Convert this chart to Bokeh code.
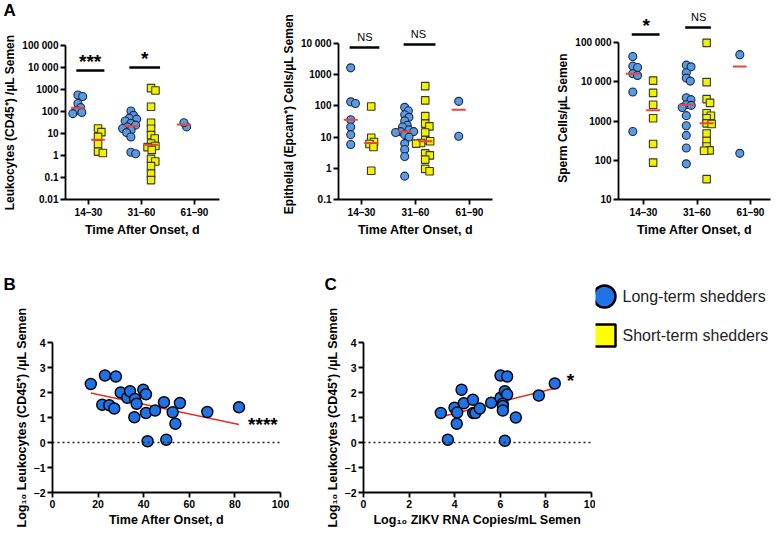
import numpy as np
from bokeh.plotting import figure
from bokeh.models import Range1d, FixedTicker, Span
from bokeh.layouts import column, row
from bokeh.embed import file_html
from bokeh.resources import INLINE
from bokeh.core.properties import value

# ---------------- data ----------------
categories = ["14–30", "31–60", "61–90"]

leuk_long = [[560, 480, 230, 150, 110, 90, 80],
             [105, 67, 50, 45, 37, 29, 24, 20, 17, 14, 11, 7, 1.4, 1.2],
             [20, 31]]
leuk_short = [[17, 11.5, 7, 3.3, 1.5, 1.3],
              [1150, 900, 165, 31, 16.5, 8.4, 5.9, 3.5, 2.7, 2.4, 1.8, 0.7, 0.53, 0.33, 0.15, 0.076]]

epi_long = [[1660, 135, 120, 36, 21, 12, 5.8],
            [90, 70, 52, 43, 33, 24, 21, 17, 15, 15, 14, 12, 10, 6.2, 4, 2.4, 0.56],
            [140, 10.7]]
epi_short = [[96, 9.5, 7, 6, 4.8, 0.83],
             [430, 150, 47, 27, 22, 14, 8, 7.4, 6.5, 6.2, 3, 2.6, 1.9, 0.96, 0.8]]

sperm_long = [[44000, 25000, 23000, 16000, 14500, 5500, 540],
              [26500, 24000, 17000, 12400, 10400, 3900, 3500, 2600, 2500, 2200, 1370, 760, 430, 205, 81],
              [49000, 150]]
sperm_short = [[10700, 5200, 2600, 1170, 260, 87],
               [98000, 9800, 3600, 2900, 1580, 1360, 1170, 870, 840, 480, 310, 225, 178, 175, 33]]

leuk_sig = ["***", "*"]
epi_sig = ["NS", "NS"]
sperm_sig = ["*", "NS"]

log_tick_labels = {0.01: "0.01", 0.1: "0.1", 1: "1", 10: "10", 100: "100", 1000: "1000",
                   10000: "10 000", 100000: "100 000"}

days_b = [16.8, 21.8, 23, 24.9, 27.1, 27.8, 29.9, 32.8, 34, 36.2, 35.9, 36.9, 39.8, 41, 41, 41.7,
          45, 48.9, 49.9, 52.7, 53.9, 55.9, 67.9, 81.8]
logleuk_b = [2.34, 1.51, 2.68, 1.49, 1.36, 2.64, 2.0, 1.79, 2.05, 1.74, 1.01, 1.55, 2.11, 1.93, 1.18, 0.05,
             1.28, 1.61, 0.11, 1.21, 0.75, 1.58, 1.22, 1.41]
b_sig = "****"

logzikv_c = [3.39, 3.70, 3.99, 4.11, 4.09, 4.30, 4.40, 4.80, 4.81, 4.91, 5.10, 5.60, 6.01, 6.30, 6.01, 6.20,
             6.30, 6.11, 6.11, 6.11, 6.68, 6.20, 7.69, 8.39]
logleuk_c = [1.18, 0.11, 1.39, 1.20, 0.75, 2.11, 1.57, 1.71, 1.18, 1.18, 1.36, 1.59, 2.68, 2.64, 1.79, 2.05,
             1.92, 1.55, 1.46, 1.28, 1.0, 0.07, 1.88, 2.36]
c_sig = "*"

legend_labels = ["Long-term shedders", "Short-term shedders"]

# ---------------- style / layout ----------------
FONT = "Liberation Sans"
BLUE_A = "#5a9be0"
BLUE_A_LINE = "#1c2a4a"
YELLOW = "#f2f200"
YELLOW_LINE = "#3a3a20"
BLUE_BC = "#1f73e6"
RED = "#e8463c"

ROW1_H = 248
FRAME1_BOTTOM = 199
ROW2_TOP = ROW1_H
ROW2_H = 280
LETTER_H = 48
A_LETTER_H = 22
FRAME2_TOP = 342
FRAME2_BOTTOM = 492
HEADER_GAP = 6  # main frame extends this far above the top tick when a header is used

STAR_UP = 9.5   # px between bar and star baseline
NS_UP = 11.0    # px between bar and NS baseline


def style_axis(ax, label_size, tick_size):
    ax.axis_line_width = 1.8
    ax.axis_line_color = "black"
    ax.major_tick_line_width = 1.8
    ax.major_tick_line_color = "black"
    ax.major_tick_out = 5
    ax.major_tick_in = 0
    ax.minor_tick_line_color = None
    ax.major_label_text_font = FONT
    ax.major_label_text_font_style = "bold"
    ax.major_label_text_font_size = tick_size
    ax.major_label_text_color = "black"
    ax.axis_label_text_font = FONT
    ax.axis_label_text_font_style = "bold"
    ax.axis_label_text_font_size = label_size
    ax.axis_label_text_color = "black"
    ax.major_label_standoff = 2
    ax.axis_label_standoff = 2


def blank_fig(width, height, x_range=None, border_left=0, border_right=0):
    p = figure(frame_width=width, frame_height=height,
               x_range=x_range if x_range is not None else Range1d(0, width), y_range=Range1d(height, 0),
               output_backend="svg", toolbar_location=None, frame_align=False,
               min_border_left=border_left, min_border_right=border_right, min_border_top=0,
               min_border_bottom=0)
    p.axis.visible = False
    p.grid.visible = False
    p.outline_line_color = None
    return p


def letter_fig(width, height, letter, x, y):
    lf = blank_fig(width, height)
    lf.text(x=[x], y=[y], text=[letter], text_font=value(FONT), text_font_style="bold",
            text_font_size="17px", text_align="left", text_baseline="middle", text_color="black")
    return lf


def swarm_offsets(vals, ppd, unit_px, d=5.0):
    ys = np.log10(np.asarray(vals, float)) * ppd
    order = np.argsort(-ys)
    placed = []
    offs = np.zeros(len(ys))
    for i in order:
        y = ys[i]
        cands = [0.0]
        for px, py in placed:
            dy = abs(y - py)
            if dy < d:
                dx = np.sqrt(d * d - dy * dy)
                cands += [px + dx, px - dx]
        cands.sort(key=abs)
        for cnd in cands:
            if all((cnd - px) ** 2 + (y - py) ** 2 >= d * d - 1e-6 for px, py in placed):
                offs[i] = cnd
                break
        placed.append((offs[i], y))
    return offs / unit_px


def draw_sig(p, sig, sig_bars, to_y):
    """to_y(px_below_top_tick, px_up) -> y value in p's coordinates."""
    for (ci, l, r, dpx, tdx), s in zip(sig_bars, sig):
        yb = to_y(dpx, 0.0)
        p.segment(x0=[ci + l], y0=[yb], x1=[ci + r], y1=[yb], line_color="black", line_width=2.5)
        if s == "NS":
            p.text(x=[ci + tdx], y=[to_y(dpx, NS_UP)], text=[s], text_font=value(FONT),
                   text_font_size="11px", text_align="center", text_baseline="alphabetic", text_color="black")
        else:
            p.text(x=[ci + tdx], y=[to_y(dpx, STAR_UP)], text=[s], text_font=value(FONT),
                   text_font_style="bold", text_font_size="19px", text_align="center",
                   text_baseline="alphabetic", text_color="black")


def a_panel(fig_left, frame_left, frame_right, fig_right, frame_top, cat0_px, unit_px, log_lo, log_hi,
            top_tick_px, ylabel, longs, shorts, sig, sig_bars, header=False, letter=None):
    ppd = (FRAME1_BOTTOM - top_tick_px) / (log_hi - log_lo)
    if header:
        frame_top = top_tick_px - HEADER_GAP
    fig_top = 0
    if header:
        fig_top = frame_top
    elif letter:
        fig_top = A_LETTER_H
    y_hi = 10 ** (log_hi + (top_tick_px - frame_top) / ppd)
    y_lo = 10 ** log_lo
    x_lo = -(cat0_px - frame_left) / unit_px
    x_hi = (frame_right - cat0_px) / unit_px
    xr = Range1d(x_lo, x_hi)
    p = figure(frame_width=frame_right - frame_left, frame_height=FRAME1_BOTTOM - frame_top,
               x_range=xr, y_range=Range1d(y_lo, y_hi),
               y_axis_type="log", output_backend="svg", toolbar_location=None, frame_align=False,
               min_border_left=frame_left - fig_left, min_border_right=fig_right - frame_right,
               min_border_top=frame_top - fig_top, min_border_bottom=ROW1_H - FRAME1_BOTTOM)
    p.outline_line_color = None
    p.grid.visible = False

    ticks = [10.0 ** k for k in range(log_lo, log_hi + 1)]
    p.yaxis.ticker = FixedTicker(ticks=ticks)
    p.yaxis.major_label_overrides = {t: log_tick_labels[t if t < 1 else int(round(t))] for t in ticks}
    p.yaxis.bounds = (y_lo, 10.0 ** log_hi)
    p.yaxis.axis_label = ylabel
    p.xaxis.ticker = FixedTicker(ticks=[0, 1, 2])
    p.xaxis.major_label_overrides = {i: cat for i, cat in enumerate(categories)}
    p.xaxis.axis_label = "Time After Onset, d"
    style_axis(p.yaxis[0], "12px", "10px")
    style_axis(p.xaxis[0], "12.5px", "10px")

    LONG_OFF, SHORT_OFF, HALF = -0.2, 0.18, 0.13
    for kind, groups in (("long", longs), ("short", shorts)):
        for ci, vals in enumerate(groups):
            base = ci + (LONG_OFF if kind == "long" else SHORT_OFF)
            xs = base + swarm_offsets(vals, ppd, unit_px)
            med = float(np.median(vals))
            if kind == "long":
                p.scatter(xs, vals, marker="circle", size=8, fill_color=BLUE_A, line_color=BLUE_A_LINE,
                          line_width=1.1)
            else:
                p.scatter(xs, vals, marker="square", size=7.5, fill_color=YELLOW, line_color=YELLOW_LINE,
                          line_width=1.1)
            p.segment(x0=[base - HALF], y0=[med], x1=[base + HALF], y1=[med], line_color=RED, line_width=2)

    if header:
        h = blank_fig(frame_right - frame_left, frame_top, x_range=xr,
                      border_left=frame_left - fig_left, border_right=fig_right - frame_right)
        draw_sig(h, sig, sig_bars, lambda dpx, up: top_tick_px + dpx - up)
        return column(h, p)
    draw_sig(p, sig, sig_bars, lambda dpx, up: 10 ** (log_hi - (dpx - up) / ppd))
    if letter:
        return column(letter_fig(fig_right - fig_left, A_LETTER_H, letter, 3 - fig_left, 10), p)
    return p


a1 = a_panel(0, 63, 217, 240, 45, 86, 53, -2, 5, 45, "Leukocytes (CD45⁺) /µL Semen", leuk_long,
             leuk_short, leuk_sig, [(0, -0.23, 0.30, 25, 0.03), (1, -0.23, 0.35, 22, 0.06)], letter="A")
a2 = a_panel(240, 336, 490, 510, 28, 359, 54, -1, 4, 43, "Epithelial (Epcam⁺) Cells/µL Semen", epi_long,
             epi_short, epi_sig, [(0, -0.22, 0.33, 4, 0.065), (1, -0.22, 0.37, 1, 0.055)])
a3 = a_panel(510, 616, 768, 770, 10, 641, 53.5, 1, 5, 42, "Sperm Cells/µL Semen", sperm_long, sperm_short,
             sperm_sig, [(0, -0.22, 0.30, -8, 0.05), (1, -0.22, 0.26, -15, 0.03)], header=True)


def xy_panel(fig_left, frame_left, frame_right, fig_right, xr, xticks, xlabel, xs, ys, letter, letter_x):
    top = ROW2_TOP + LETTER_H
    p = figure(frame_width=frame_right - frame_left, frame_height=FRAME2_BOTTOM - FRAME2_TOP,
               x_range=Range1d(*xr), y_range=Range1d(-2, 4), frame_align=False,
               output_backend="svg", toolbar_location=None,
               min_border_left=frame_left - fig_left, min_border_right=fig_right - frame_right,
               min_border_top=FRAME2_TOP - top, min_border_bottom=ROW2_TOP + ROW2_H - FRAME2_BOTTOM)
    p.outline_line_color = None
    p.grid.visible = False
    p.yaxis.ticker = FixedTicker(ticks=list(range(-2, 5)))
    p.xaxis.ticker = FixedTicker(ticks=xticks)
    p.yaxis.axis_label = "Log₁₀ Leukocytes (CD45⁺) /µL Semen"
    p.xaxis.axis_label = xlabel
    style_axis(p.yaxis[0], "12.5px", "10.5px")
    style_axis(p.xaxis[0], "12.5px", "10.5px")
    p.add_layout(Span(location=0, dimension="width", line_color="#222222", line_dash="2 3", line_width=1.5))
    xs = np.asarray(xs, float)
    ys = np.asarray(ys, float)
    slope, icpt = np.polyfit(xs, ys, 1)
    xl = np.array([xs.min(), xs.max()])
    p.line(xl, slope * xl + icpt, line_color="#e0302a", line_width=1.6)
    p.scatter(xs, ys, marker="circle", size=11, fill_color=BLUE_BC, line_color="black", line_width=1.4)
    lf = letter_fig(fig_right - fig_left, LETTER_H, letter, letter_x - fig_left, LETTER_H - 12)
    return column(lf, p), p


ppu2 = (FRAME2_BOTTOM - FRAME2_TOP) / 6.0
b, b_main = xy_panel(0, 52, 280, 300, (0, 100), [0, 20, 40, 60, 80, 100], "Time After Onset, d",
                     days_b, logleuk_b, "B", 3)
b_main.text(x=[85.8], y=[0.735 - 10.0 / ppu2 + STAR_UP / ppu2], text=[b_sig], text_font=value(FONT),
            text_font_style="bold", text_font_size="19px", text_align="left", text_baseline="alphabetic",
            text_color="black")
c, c_main = xy_panel(300, 363, 591, 595, (0, 10), [0, 2, 4, 6, 8, 10], "Log₁₀ ZIKV RNA Copies/mL Semen",
                     logzikv_c, logleuk_c, "C", 324)
c_main.text(x=[9.08], y=[2.5 - 10.0 / ppu2 + STAR_UP / ppu2], text=[c_sig], text_font=value(FONT),
            text_font_style="bold", text_font_size="19px", text_align="center", text_baseline="alphabetic",
            text_color="black")

# legend panel
leg = blank_fig(175, ROW2_H)
ROW_Y0, ROW_DY, KEY_X, TXT_X = 48, 39, 9, 27
leg.scatter([KEY_X], [ROW_Y0], marker="circle", size=22, fill_color=BLUE_BC, line_color="black", line_width=2.5)
leg.scatter([KEY_X], [ROW_Y0 + ROW_DY], marker="square", size=22, fill_color="#ffff00", line_color="black",
            line_width=2.5)
leg.text(x=[TXT_X, TXT_X], y=[ROW_Y0, ROW_Y0 + ROW_DY], text=legend_labels, text_font=value(FONT),
         text_font_size="16px", text_baseline="middle", text_align="left", text_color="#222222")

layout = column(row(a1, a2, a3), row(b, c, leg))
open("out.html", "w").write(file_html(layout, INLINE))
